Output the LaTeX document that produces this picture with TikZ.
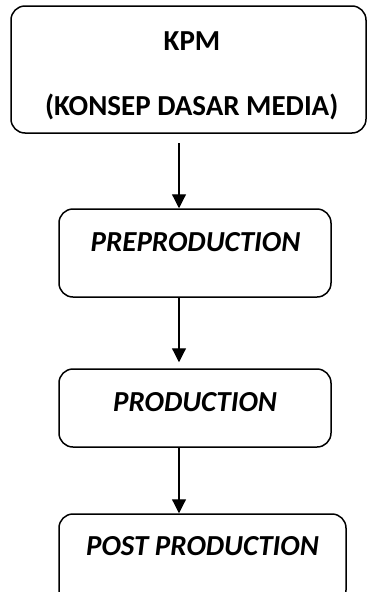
\documentclass[tikz,border=0pt]{standalone}
\usepackage{fontspec}
\setmainfont{Carlito}
\usetikzlibrary{arrows.meta}
\begin{document}
\begin{tikzpicture}[x=1pt,y=-1pt,
  box/.style={draw=black,line width=1.5pt,rounded corners=14pt,minimum width=#1,inner sep=0pt},
  lbl/.style={anchor=base,font=\fontsize{29}{34}\selectfont\bfseries,inner sep=0pt},
  ilbl/.style={lbl,font=\fontsize{29}{34}\selectfont\bfseries\itshape},
  arr/.style={line width=1.2pt,-{Triangle[length=14pt,width=14pt]}}]
\useasboundingbox (0,0) rectangle (368,592);
\node[box=355pt,minimum height=127pt] (b1) at (188.5,69.5) {};
\node[box=272pt,minimum height=88pt] (b2) at (195,253) {};
\node[box=272pt,minimum height=78pt] (b3) at (195,408) {};
\node[box=287pt,minimum height=90pt] (b4) at (202.5,559) {};
\node[lbl] (t1) at (192,50.7) {KPM};
\node[lbl] (t1b) at (191.7,115) {(KONSEP DASAR MEDIA)};
\node[ilbl] (t2) at (195.5,251.7) {PREPRODUCTION};
\node[ilbl] (t3) at (195,411.7) {PRODUCTION};
\node[ilbl] (t4) at (202.5,555) {POST PRODUCTION};
\coordinate (s1) at (179,143);
\draw[arr] (s1) -- (s1 |- b2.north);
\draw[arr,shorten >=6pt] (s1 |- b2.south) -- (s1 |- b3.north);
\draw[arr] (s1 |- b3.south) -- (s1 |- b4.north);
\end{tikzpicture}
\end{document}
